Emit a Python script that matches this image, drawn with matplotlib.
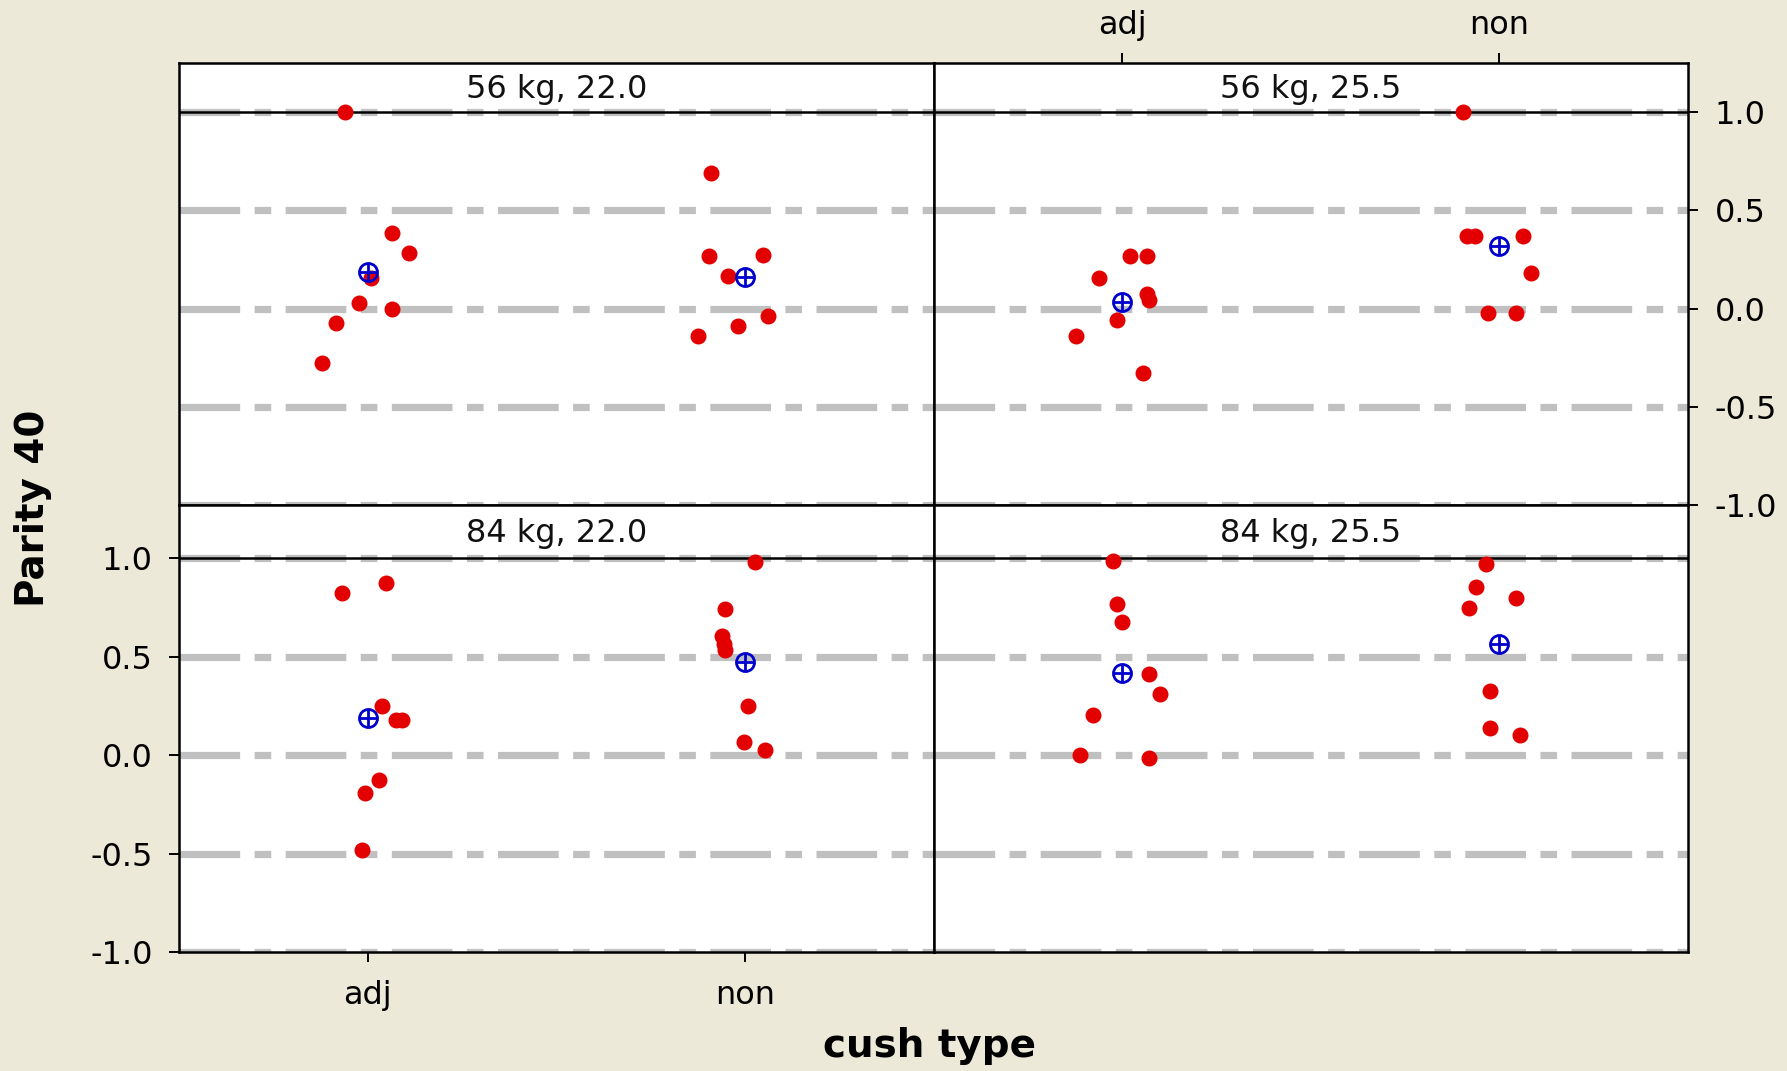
import numpy as np
import matplotlib
matplotlib.use('Agg')
import matplotlib.pyplot as plt

# Panel titles (strip labels)
panel_titles = ['56 kg, 22.0', '56 kg, 25.5', '84 kg, 22.0', '84 kg, 25.5']

# Categories on the x axis
categories = ['adj', 'non']

# y tick values and labels
y_ticks = [-1.0, -0.5, 0.0, 0.5, 1.0]
y_tick_labels = ['-1.0', '-0.5', '0.0', '0.5', '1.0']

# Values, with the horizontal jitter of each point
adj_56_220 = [1.0, 0.386, 0.285, 0.153, 0.03, 0.0, -0.073, -0.275]
adj_56_220_jit = [-0.06, 0.064, 0.109, 0.009, -0.023, 0.064, -0.085, -0.121]
non_56_220 = [0.69, 0.267, 0.271, 0.164, -0.037, -0.09, -0.139]
non_56_220_jit = [-0.09, -0.096, 0.047, -0.044, 0.061, -0.018, -0.125]

adj_56_255 = [0.153, 0.266, 0.266, 0.073, 0.042, -0.06, -0.141, -0.327]
adj_56_255_jit = [-0.061, 0.022, 0.065, 0.065, 0.072, -0.014, -0.123, 0.055]
non_56_255 = [1.0, 0.368, 0.368, 0.368, 0.181, -0.022, -0.022]
non_56_255_jit = [-0.097, -0.087, -0.065, 0.062, 0.083, -0.029, 0.043]

adj_84_220 = [0.824, 0.874, 0.25, 0.18, 0.18, -0.126, -0.194, -0.481]
adj_84_220_jit = [-0.068, 0.048, 0.038, 0.075, 0.09, 0.029, -0.008, -0.016]
non_84_220 = [0.981, 0.744, 0.607, 0.565, 0.533, 0.25, 0.065, 0.028]
non_84_220_jit = [0.027, -0.052, -0.06, -0.056, -0.052, 0.008, -0.002, 0.054]

adj_84_255 = [0.986, 0.765, 0.676, 0.41, 0.308, 0.204, 0.0, -0.017]
adj_84_255_jit = [-0.025, -0.014, 0.0, 0.072, 0.101, -0.078, -0.113, 0.072]
non_84_255 = [0.969, 0.855, 0.799, 0.748, 0.323, 0.136, 0.102]
non_84_255_jit = [-0.036, -0.062, 0.043, -0.080, -0.026, -0.026, 0.054]

panel_data = [
    [(adj_56_220, adj_56_220_jit), (non_56_220, non_56_220_jit)],
    [(adj_56_255, adj_56_255_jit), (non_56_255, non_56_255_jit)],
    [(adj_84_220, adj_84_220_jit), (non_84_220, non_84_220_jit)],
    [(adj_84_255, adj_84_255_jit), (non_84_255, non_84_255_jit)],
]

bg = '#ECE9D8'
grid_gray = '#C0C0C0'
dot_red = '#E30000'
mean_blue = '#0000CC'
tick_size = 23

fig = plt.figure(figsize=(17.87, 10.71), dpi=100, facecolor=bg)

# panel geometry in figure fractions
x0, x1 = 0.1002, 0.9446
w = (x1 - x0) / 2
y_bot, y_mid, y_top = 0.1111, 0.5285, 0.9412
rects = [
    [x0, y_mid, w, y_top - y_mid],
    [x0 + w, y_mid, w, y_top - y_mid],
    [x0, y_bot, w, y_mid - y_bot],
    [x0 + w, y_bot, w, y_mid - y_bot],
]
y_upper = [1.25, 1.25, 1.27, 1.27]

axes = []
for i, rect in enumerate(rects):
    ax = fig.add_axes(rect)
    ax.set_facecolor('white')
    ax.set_xlim(0.5, 2.5)
    ax.set_ylim(-1.0, y_upper[i])

    # dash-dot reference lines
    for yv in y_ticks:
        ax.axhline(yv, color=grid_gray, lw=5.2,
                   linestyle=(0, (8.4, 2.0, 2.3, 2.0)), zorder=1)
    # strip border at y = 1
    ax.axhline(1.0, color='black', lw=1.8, zorder=2)

    # strip title
    ax.text(0.5, (1.0 + y_upper[i]) / 2 - 0.01, panel_titles[i],
            transform=ax.get_yaxis_transform(), ha='center', va='center',
            fontsize=tick_size, color='#111111')

    for j, (vals, jit) in enumerate(panel_data[i]):
        xs = j + 1 + np.array(jit)
        ax.plot(xs, vals, 'o', color=dot_red, ms=10.5, mec=dot_red, zorder=3)
        m = np.mean(vals)
        ax.plot(j + 1, m, 'o', ms=13, mfc='none', mec=mean_blue, mew=2, zorder=4)
        ax.plot(j + 1, m, '+', ms=13, color=mean_blue, mew=2, zorder=4)

    for s in ax.spines.values():
        s.set_linewidth(1.8)
        s.set_color('black')

    ax.set_xticks([])
    ax.set_yticks([])
    axes.append(ax)

# bottom-left panel: left and bottom ticks
ax = axes[2]
ax.set_yticks(y_ticks)
ax.set_yticklabels(y_tick_labels)
ax.set_xticks([1, 2])
ax.set_xticklabels(categories)
ax.tick_params(axis='y', left=True, length=7, width=1.4, pad=12, labelsize=tick_size)
ax.tick_params(axis='x', bottom=True, length=7, width=1.4, pad=13, labelsize=tick_size)

# top-right panel: right and top ticks
ax = axes[1]
ax.yaxis.tick_right()
ax.set_yticks(y_ticks)
ax.set_yticklabels(y_tick_labels)
ax.xaxis.tick_top()
ax.set_xticks([1, 2])
ax.set_xticklabels(categories)
ax.tick_params(axis='y', length=7, width=1.4, pad=12, labelsize=tick_size)
ax.tick_params(axis='x', length=7, width=1.4, pad=9, labelsize=tick_size)

# axis labels
fig.text(0.0185, 0.5257, 'Parity 40', rotation=90, ha='center', va='center',
         fontsize=28, fontweight='bold')
fig.text(0.52, 0.0233, 'cush type', ha='center', va='center',
         fontsize=28, fontweight='bold')

fig.savefig('out.png', dpi=100, facecolor=bg)
plt.close('all')
